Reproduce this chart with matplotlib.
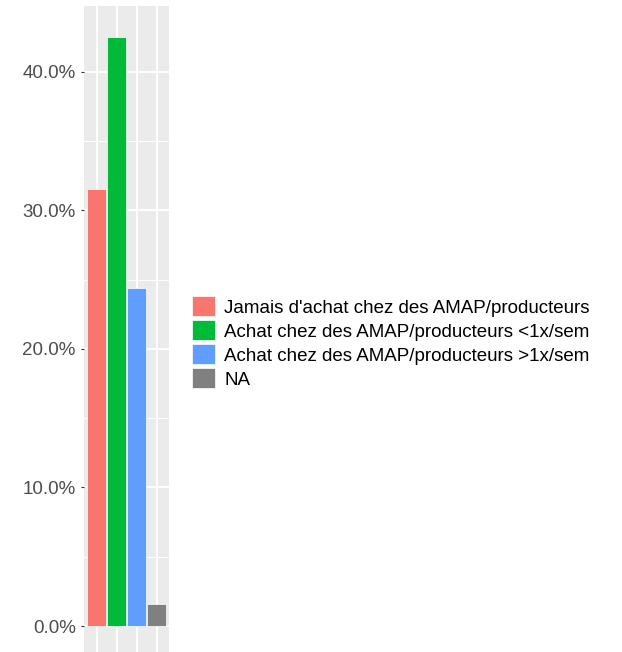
import numpy as np
import matplotlib.pyplot as plt
from matplotlib.patches import Patch

plt.rcParams['font.family'] = ['Liberation Sans', 'DejaVu Sans']

# données
categories = ["Jamais d'achat chez des AMAP/producteurs",
              "Achat chez des AMAP/producteurs <1x/sem",
              "Achat chez des AMAP/producteurs >1x/sem",
              "NA"]
pourcentages = [31.5, 42.5, 24.4, 1.6]
couleurs = ["#F8766D", "#00BA38", "#619CFF", "#808080"]
yticks = [0, 10, 20, 30, 40]

fig = plt.figure(figsize=(6.22, 6.52), dpi=100)
ax = fig.add_axes([84/622, (652-655.6)/652, 85/622, 649.6/652])
ax.set_facecolor('#EBEBEB')

x = np.arange(len(categories))
ax.bar(x, pourcentages, width=0.92, color=couleurs, edgecolor='white', linewidth=0.5, zorder=3)

ax.set_xlim(-0.625, 3.625)
ax.set_ylim(-2.13, 44.73)
ax.set_xticks(x)
ax.set_xticklabels([])
ax.set_yticks(yticks)
ax.set_yticklabels([f"{v:.1f}%" for v in yticks])
ax.set_yticks([5, 15, 25, 35], minor=True)
ax.tick_params(axis='y', which='major', labelsize=13.5, labelcolor='#4D4D4D',
               color='#333333', length=2.5, width=0.8, pad=3.5)
ax.tick_params(axis='y', which='minor', length=0)
ax.tick_params(axis='x', length=0)
ax.grid(which='major', color='white', linewidth=1.4, zorder=0)
ax.grid(which='minor', axis='y', color='white', linewidth=0.7, zorder=0)
ax.set_axisbelow(True)
for s in ax.spines.values():
    s.set_visible(False)

# légende
handles = [Patch(facecolor=c, edgecolor='white', linewidth=0.5) for c in couleurs]
fig.legend(handles, categories, loc='center left', bbox_to_anchor=(192/622, 0.4747),
           frameon=False, fontsize=13.5, borderpad=0, borderaxespad=0,
           handlelength=1.22, handleheight=1.25, handletextpad=0.5, labelspacing=0.2)

fig.savefig('out.png', dpi=100)
